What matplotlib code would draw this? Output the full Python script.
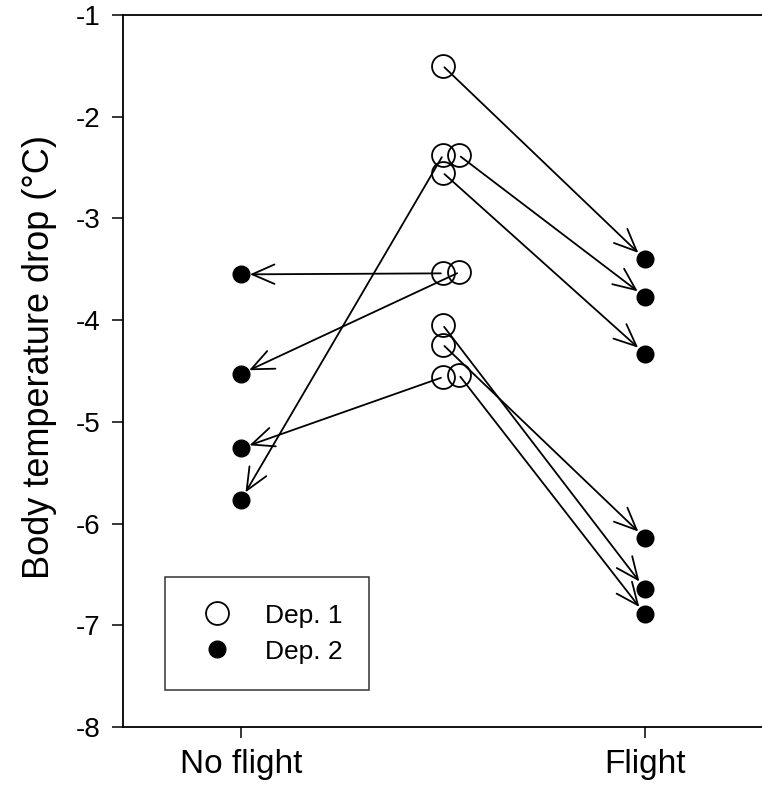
import matplotlib
matplotlib.use("Agg")
import matplotlib.pyplot as plt

plt.rcParams["font.family"] = ["Liberation Sans", "DejaVu Sans"]
plt.rcParams["axes.unicode_minus"] = False

# x positions: 0 = No flight, 1 = Flight, 0.5 = Dep. 1 (with small jitter)
# each Dep. 1 point is paired with the Dep. 2 point at the same index
dep1_x = [0.5, 0.5, 0.54, 0.5, 0.5, 0.54, 0.5, 0.5, 0.5, 0.54]
dep1_y = [-1.50, -2.38, -2.38, -2.55, -3.54, -3.53, -4.05, -4.24, -4.56, -4.54]

dep2_x = [1, 0, 1, 1, 0, 0, 1, 1, 0, 1]
dep2_y = [-3.40, -5.77, -3.77, -4.33, -3.55, -4.53, -6.64, -6.14, -5.26, -6.89]

xtick_pos = [0, 1]
xtick_labels = ["No flight", "Flight"]
ytick_pos = [-1, -2, -3, -4, -5, -6, -7, -8]

W, H = 762, 786
fig = plt.figure(figsize=(W / 100, H / 100), dpi=100)
ax = fig.add_axes([123 / W, 1 - 727 / H, (W - 123) / W, (727 - 15) / H])

for x0, y0, x1, y1 in zip(dep1_x, dep1_y, dep2_x, dep2_y):
    ax.annotate(
        "",
        xy=(x1, y1),
        xytext=(x0, y0),
        arrowprops=dict(arrowstyle="->,head_length=0.8,head_width=0.35",
                        color="black", lw=1.3, shrinkA=1.5, shrinkB=6.5,
                        mutation_scale=20),
        zorder=2,
    )

ax.plot(dep1_x, dep1_y, linestyle="none", marker="o", ms=16.5,
        mfc="none", mec="black", mew=1.3, label="Dep. 1", zorder=3)
ax.plot(dep2_x, dep2_y, linestyle="none", marker="o", ms=12,
        mfc="black", mec="black", label="Dep. 2", zorder=3)

ax.set_xlim(-0.292, 1.29)
ax.set_ylim(-8, -1)
ax.set_xticks(xtick_pos)
ax.set_xticklabels(xtick_labels, fontsize=24)
ax.set_yticks(ytick_pos)
ax.tick_params(axis="y", labelsize=20, direction="out", length=8, width=1.1, pad=8)
ax.tick_params(axis="x", direction="out", length=8, width=1.1, pad=8)
ax.set_ylabel("Body temperature drop (\u00b0C)", fontsize=26)
ax.yaxis.set_label_coords(-0.104, 0.52)

ax.spines["right"].set_visible(False)
for side in ["left", "top", "bottom"]:
    ax.spines[side].set_linewidth(1.3)

leg = ax.legend(loc="lower left", bbox_to_anchor=(0.066, 0.052), fontsize=19,
                frameon=True, fancybox=False, edgecolor="black",
                borderpad=1.0, labelspacing=0.45, handlelength=1.9,
                handletextpad=0.9, borderaxespad=0)
leg.get_frame().set_linewidth(1.1)

fig.savefig("out.png", dpi=100)
